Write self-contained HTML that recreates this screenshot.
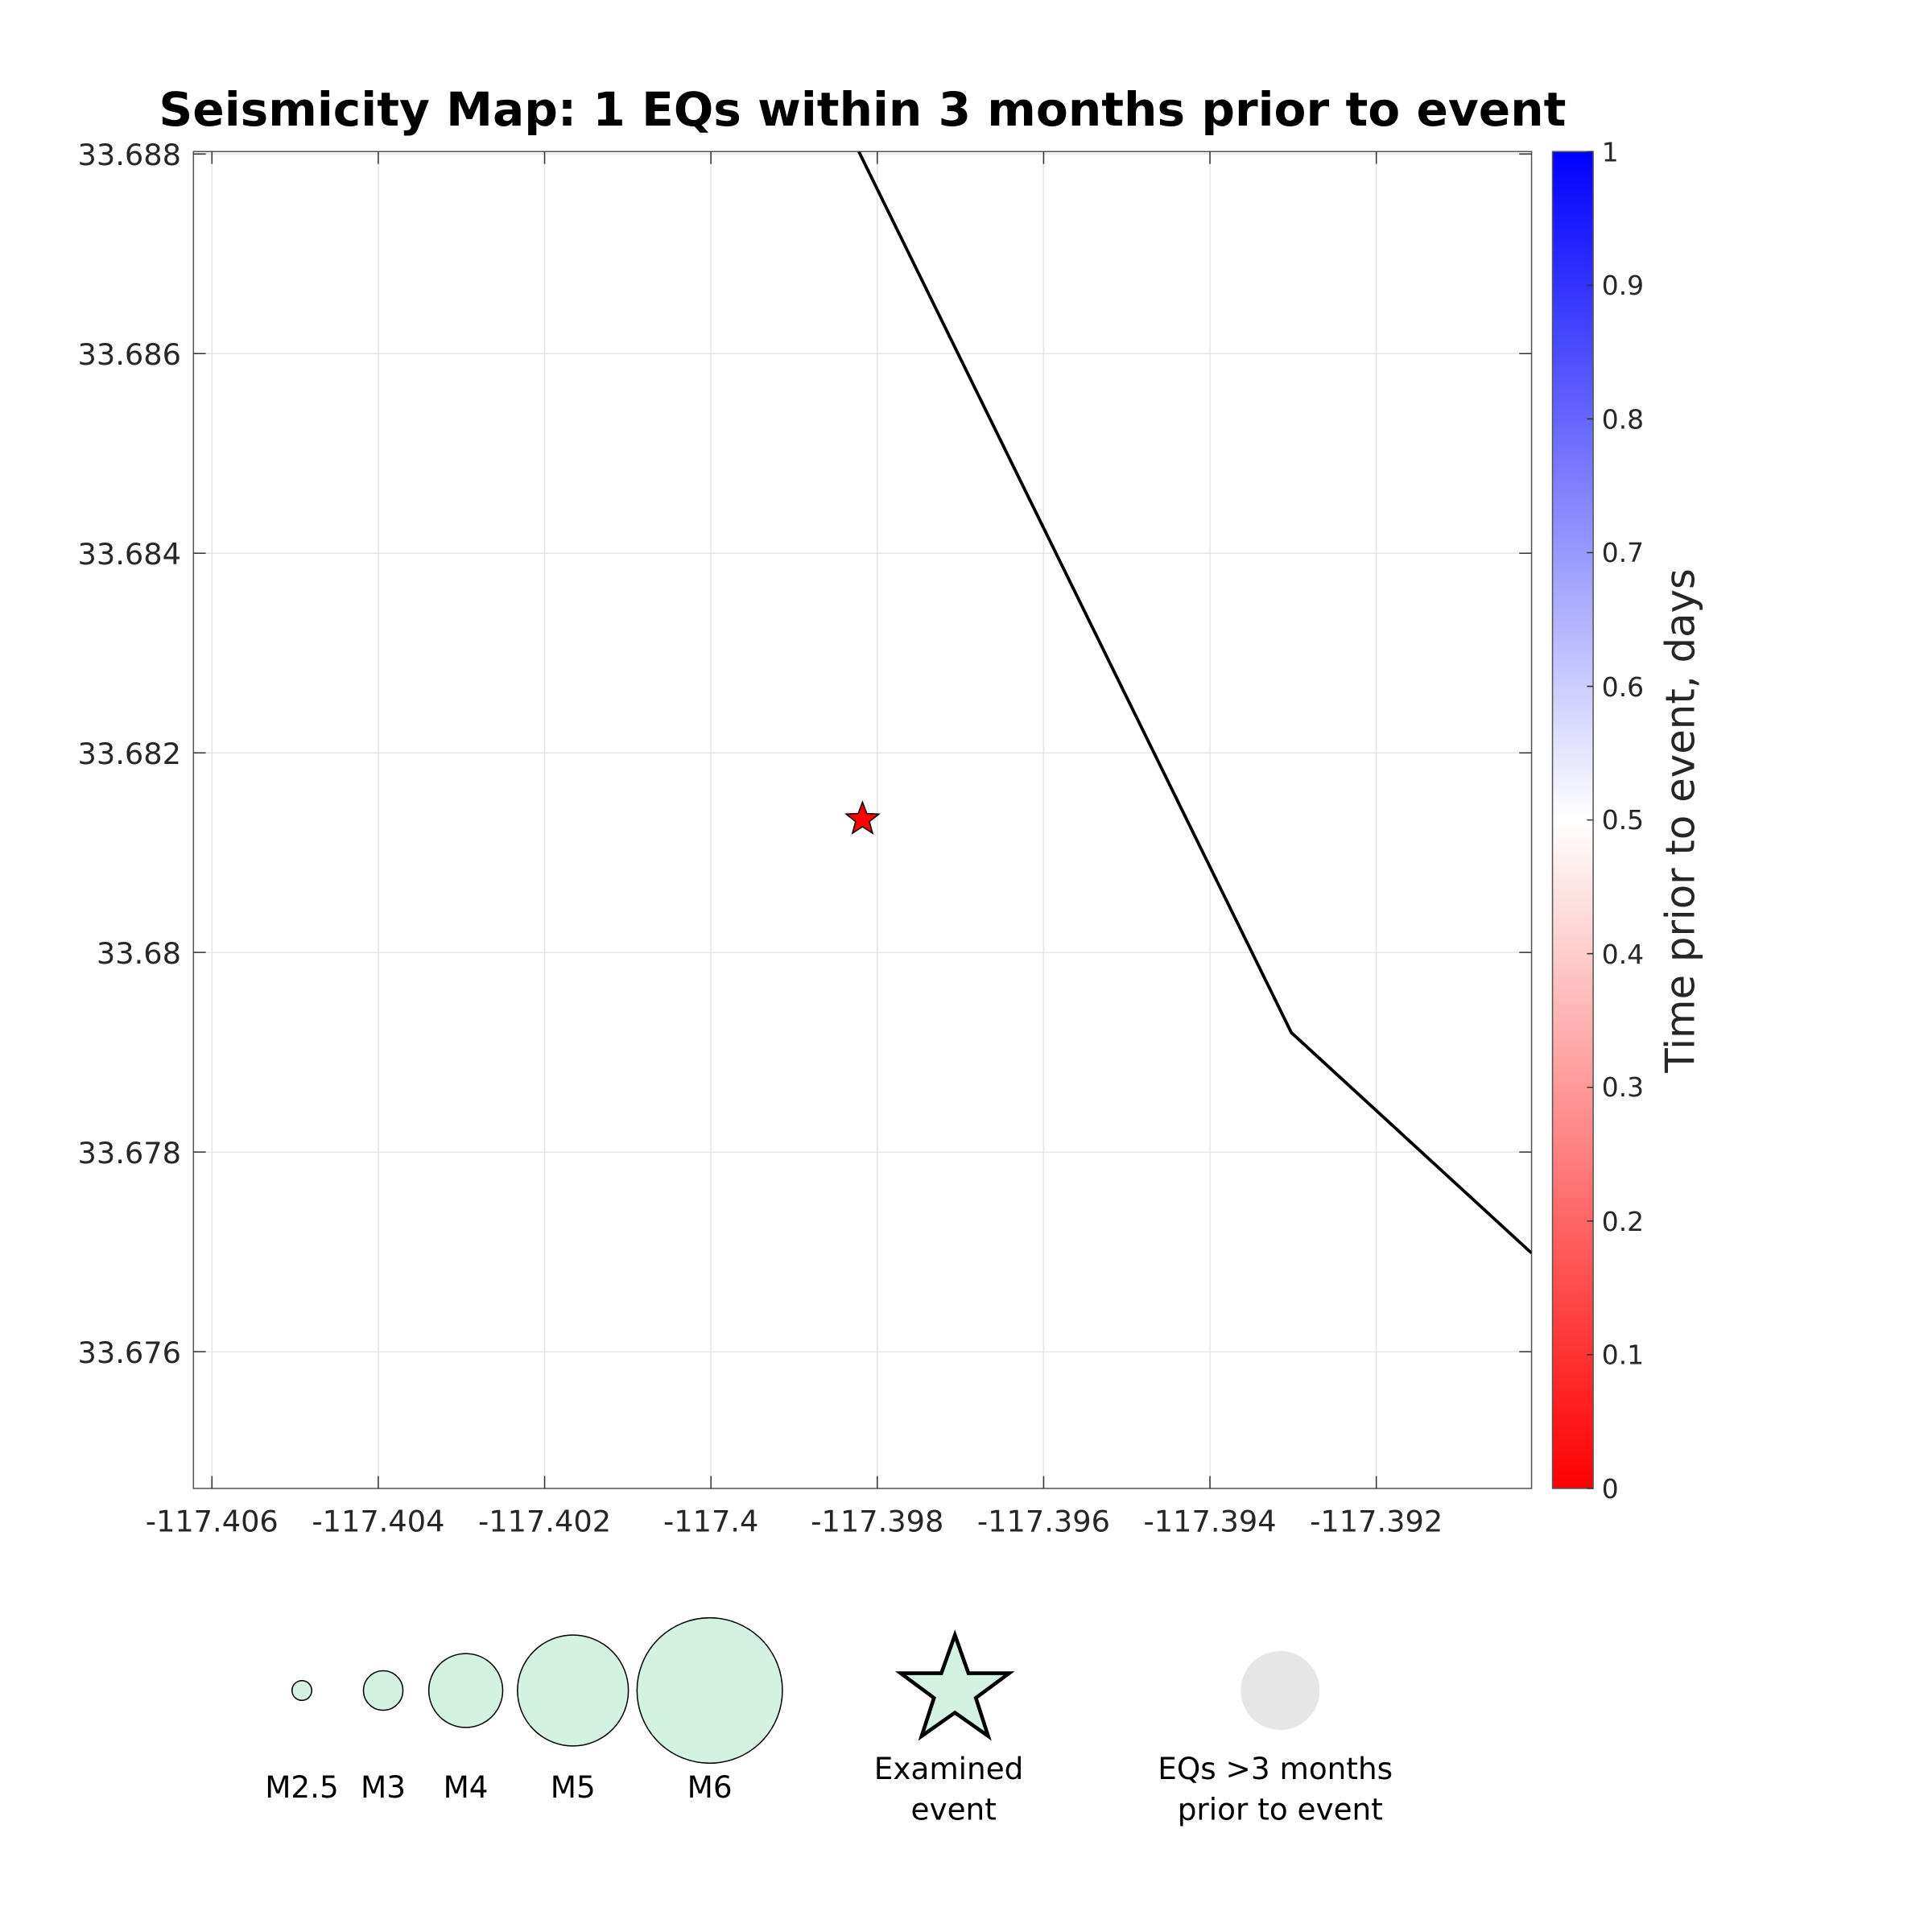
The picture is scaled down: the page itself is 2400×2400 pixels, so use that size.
<!DOCTYPE html>
<html><head><style>html,body{margin:0;padding:0;background:#fff}svg{display:block}</style></head><body>
<svg width="2400" height="2400" viewBox="0 0 1568 1568" xmlns="http://www.w3.org/2000/svg" font-family="'DejaVu Sans','Liberation Sans',sans-serif">
<defs>
<linearGradient id="cb" x1="0" y1="1" x2="0" y2="0">
<stop offset="0" stop-color="#ff0000"/><stop offset="0.5" stop-color="#ffffff"/><stop offset="1" stop-color="#0000ff"/>
</linearGradient>
<clipPath id="ax"><rect x="157" y="123" width="1086" height="1085"/></clipPath>
</defs>
<rect width="1568" height="1568" fill="#fff"/>
<text x="700" y="102" font-size="38" font-weight="bold" text-anchor="middle">Seismicity Map: 1 EQs within 3 months prior to event</text>
<g stroke="#e6e6e6" stroke-width="1">
<line x1="172" y1="123" x2="172" y2="1208"/><line x1="307" y1="123" x2="307" y2="1208"/><line x1="442" y1="123" x2="442" y2="1208"/><line x1="577" y1="123" x2="577" y2="1208"/><line x1="712" y1="123" x2="712" y2="1208"/><line x1="847" y1="123" x2="847" y2="1208"/><line x1="982" y1="123" x2="982" y2="1208"/><line x1="1117" y1="123" x2="1117" y2="1208"/>
<line x1="157" y1="125" x2="1243" y2="125"/><line x1="157" y1="287" x2="1243" y2="287"/><line x1="157" y1="449" x2="1243" y2="449"/><line x1="157" y1="611" x2="1243" y2="611"/><line x1="157" y1="773" x2="1243" y2="773"/><line x1="157" y1="935" x2="1243" y2="935"/><line x1="157" y1="1097" x2="1243" y2="1097"/>
</g>
<rect x="157" y="123" width="1086" height="1085" fill="none" stroke="#555" stroke-width="1"/>
<g stroke="#333" stroke-width="1">
<path d="M172 1208v-10M307 1208v-10M442 1208v-10M577 1208v-10M712 1208v-10M847 1208v-10M982 1208v-10M1117 1208v-10"/>
<path d="M172 123v10M307 123v10M442 123v10M577 123v10M712 123v10M847 123v10M982 123v10M1117 123v10"/>
<path d="M157 125h10M157 287h10M157 449h10M157 611h10M157 773h10M157 935h10M157 1097h10"/>
<path d="M1243 125h-10M1243 287h-10M1243 449h-10M1243 611h-10M1243 773h-10M1243 935h-10M1243 1097h-10"/>
</g>
<g font-size="24" fill="#262626" text-anchor="middle">
<text x="172" y="1243">-117.406</text><text x="307" y="1243">-117.404</text><text x="442" y="1243">-117.402</text><text x="577" y="1243">-117.4</text><text x="712" y="1243">-117.398</text><text x="847" y="1243">-117.396</text><text x="982" y="1243">-117.394</text><text x="1117" y="1243">-117.392</text>
</g>
<g font-size="24" fill="#262626" text-anchor="end">
<text x="147" y="134">33.688</text><text x="147" y="296">33.686</text><text x="147" y="458">33.684</text><text x="147" y="620">33.682</text><text x="147" y="782">33.68</text><text x="147" y="944">33.678</text><text x="147" y="1106">33.676</text>
</g>
<polyline clip-path="url(#ax)" points="697,123 1048,838 1243,1017" fill="none" stroke="#000" stroke-width="2.5"/>
<polygon points="700,651 703.5,660.2 713.3,660.7 705.6,666.8 708.2,676.3 700,671 691.8,676.3 694.4,666.8 686.7,660.7 696.5,660.2" fill="#ff0000" stroke="#000" stroke-width="1"/>
<rect x="1260" y="123" width="33" height="1085" fill="url(#cb)" stroke="#555" stroke-width="1"/>
<g stroke="#333"><path d="M1293 1208h-5M1293 1099.5h-5M1293 991h-5M1293 882.5h-5M1293 774h-5M1293 665.5h-5M1293 557h-5M1293 448.5h-5M1293 340h-5M1293 231.5h-5M1293 123h-5"/></g>
<g font-size="21.5" fill="#262626">
<text x="1300" y="1216">0</text><text x="1300" y="1107">0.1</text><text x="1300" y="999">0.2</text><text x="1300" y="890">0.3</text><text x="1300" y="782">0.4</text><text x="1300" y="673">0.5</text><text x="1300" y="565">0.6</text><text x="1300" y="456">0.7</text><text x="1300" y="348">0.8</text><text x="1300" y="239">0.9</text><text x="1300" y="131">1</text>
</g>
<text transform="translate(1375,666) rotate(-90)" font-size="32.5" fill="#262626" text-anchor="middle">Time prior to event, days</text>
<g fill="#d4f2e1" stroke="#000" stroke-width="1">
<circle cx="245" cy="1372" r="8"/><circle cx="311" cy="1372" r="16"/><circle cx="378" cy="1372" r="30"/><circle cx="465" cy="1372" r="45"/><circle cx="576" cy="1372" r="59"/>
</g>
<polygon points="775,1327 786,1358 819,1358 792,1378 802,1409 775,1390 748,1409 758,1378 731,1358 764,1358" fill="#d4f2e1" stroke="#000" stroke-width="3"/>
<circle cx="1039" cy="1372" r="32" fill="#e6e6e6"/>
<g font-size="24.4" fill="#000" text-anchor="middle">
<text x="245" y="1459">M2.5</text><text x="311" y="1459">M3</text><text x="378" y="1459">M4</text><text x="465" y="1459">M5</text><text x="576" y="1459">M6</text>
<text x="770" y="1444">Examined</text><text x="774" y="1477">event</text>
<text x="1035" y="1444">EQs &gt;3 months</text><text x="1039" y="1477">prior to event</text>
</g>
</svg>
</body></html>
